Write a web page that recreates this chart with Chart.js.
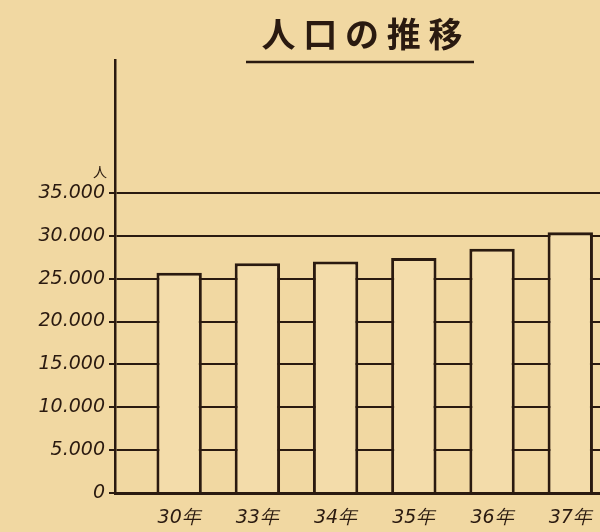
<!DOCTYPE html>
<html>
<head>
<meta charset="utf-8">
<script src="https://cdn.jsdelivr.net/npm/chart.js@4"></script>
<style>
  html, body { margin: 0; padding: 0; background: #f1d8a2; }
  #wrap { width: 600px; height: 532px; }
</style>
</head>
<body>
<div id="wrap"><canvas id="jinko"></canvas></div>
<script>
// data
var years = ['30年', '33年', '34年', '35年', '36年', '37年'];
var population = [25700, 26800, 27000, 27400, 28500, 30400];
var yTicks = [0, 5000, 10000, 15000, 20000, 25000, 30000, 35000];

var ink = '#2a1a10';
var paper = '#f1d8a2';

// title + underline + unit, drawn by hand like the paper
var decor = {
    id: 'decor',
    afterDraw: function(chart){
        var ctx = chart.ctx;
        var y = chart.scales.y;
        ctx.save();
        ctx.fillStyle = ink;
        ctx.textAlign = 'center';
        ctx.textBaseline = 'middle';
        ctx.font = 'bold 34px "Noto Sans CJK JP"';
        ctx.fillText('人 口 の 推 移', 362, 34);
        ctx.strokeStyle = ink;
        ctx.lineWidth = 2.5;
        ctx.beginPath();
        ctx.moveTo(246, 62);
        ctx.lineTo(474, 62);
        ctx.stroke();
        ctx.font = '14px "Noto Sans CJK JP"';
        ctx.fillText('人', 100, y.getPixelForValue(35000) - 21);
        ctx.restore();
    }
};

var ctx = document.getElementById('jinko').getContext('2d');
var myChart = new Chart(ctx, {
    type: 'bar',
    data: {
        datasets: [{
            label: '人口',
            data: population.map(function(v, i){ return {x: i, y: v}; }),
            backgroundColor: '#f3dcaa',
            borderColor: ink,
            borderWidth: 3,
            barPercentage: 0.58,
            categoryPercentage: 1
        }]
    },
    plugins: [decor],
    options: {
        responsive: true,
        maintainAspectRatio: false,
        animation: false,
        layout: { padding: { top: 60, left: 0, right: 0, bottom: 0 } },
        plugins: {
            legend: { display: false },
            title: { display: false },
            tooltip: { enabled: false }
        },
        scales: {
            x: {
                type: 'linear',
                offset: false,
                min: -0.82,
                max: 5.38,
                afterBuildTicks: function(scale){
                    scale.ticks = years.map(function(y, i){ return {value: i}; });
                },
                afterFit: function(scale){ scale.height = 39; },
                grid: { display: false },
                border: { color: ink, width: 3 },
                ticks: {
                    color: ink,
                    padding: 6,
                    maxRotation: 0,
                    font: { family: 'DejaVu Sans', style: 'italic', size: 19 },
                    callback: function(v){ return years[v]; }
                }
            },
            y: {
                min: 0,
                max: 50500,
                afterBuildTicks: function(scale){
                    scale.ticks = yTicks.map(function(v){ return {value: v}; });
                },
                afterFit: function(scale){ scale.width = 115; },
                grid: { color: ink, lineWidth: 2, tickLength: 6, drawTicks: true },
                border: { color: ink, width: 2.5 },
                ticks: {
                    color: ink,
                    padding: 4,
                    font: { family: 'DejaVu Sans', style: 'italic', size: 19 },
                    callback: function(v){
                        if (v == 0) return '0';
                        return (v / 1000) + '.000';
                    }
                }
            }
        }
    }
});
</script>
</body>
</html>
